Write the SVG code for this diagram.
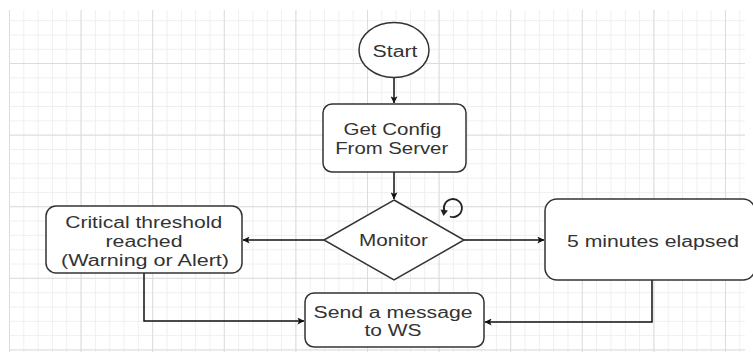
<svg xmlns="http://www.w3.org/2000/svg" width="753" height="354" viewBox="0 0 753 354">
<defs>
<pattern id="minor" x="9" y="5.8" width="14.32" height="14.32" patternUnits="userSpaceOnUse">
<path d="M0 0.5H14.32M0.5 0V14.32" fill="none" stroke="#efefef" stroke-width="1"/>
</pattern>
<pattern id="major" x="9" y="-8.6" width="71.6" height="71.6" patternUnits="userSpaceOnUse">
<path d="M0 0.5H71.6M0.5 0V71.6" fill="none" stroke="#dcdcdc" stroke-width="1"/>
</pattern>
<marker id="arr" viewBox="0 0 10 10" refX="9.5" refY="5" markerWidth="7" markerHeight="7" markerUnits="userSpaceOnUse" orient="auto">
<path d="M0 0L10 5L0 10L2.5 5Z" fill="#111"/>
</marker>
</defs>
<style>
.node{fill:#fff;stroke:#333;stroke-width:1.5}
.t{font-family:"Liberation Sans",Arial,sans-serif;font-size:16px;fill:#333;text-anchor:middle}
.c{fill:none;stroke:#111;stroke-width:1.5}
</style>
<rect width="753" height="354" fill="#fff"/>
<g id="grid">
<rect x="9" y="10" width="736" height="342" fill="url(#minor)"/>
<rect x="9" y="10" width="736" height="342" fill="url(#major)"/>
</g>
<g id="connectors">
<path class="c" d="M394 78V103" marker-end="url(#arr)"/>
<path class="c" d="M394 172V199" marker-end="url(#arr)"/>
<path class="c" d="M324 240H243" marker-end="url(#arr)"/>
<path class="c" d="M464 240H544" marker-end="url(#arr)"/>
<path class="c" d="M144 273V321H304" marker-end="url(#arr)"/>
<path class="c" d="M652 280V322H485" marker-end="url(#arr)"/>
</g>
<g id="start">
<ellipse class="node" cx="394" cy="50" rx="35" ry="27.5"/>
<text class="t" x="395" y="57" textLength="45" lengthAdjust="spacingAndGlyphs">Start</text>
</g>
<g id="getconfig">
<rect class="node" x="323" y="104" width="143" height="68" rx="9"/>
<text class="t" x="392.5" y="135" textLength="98" lengthAdjust="spacingAndGlyphs">Get Config</text>
<text class="t" x="391.7" y="154" textLength="113" lengthAdjust="spacingAndGlyphs">From Server</text>
</g>
<g id="monitor">
<polygon class="node" points="394,200 464,240 394,280 324,240"/>
<text class="t" x="393.5" y="246" textLength="69" lengthAdjust="spacingAndGlyphs">Monitor</text>
<path d="M449.9 216.5A9 9 0 1 0 444.4 211" fill="none" stroke="#222" stroke-width="1.8"/>
<path d="M440.5 209.5L448 210.5L443.5 216Z" fill="#222"/>
</g>
<g id="critical">
<rect class="node" x="46" y="206" width="196" height="67" rx="10"/>
<text class="t" x="143.7" y="228" textLength="157" lengthAdjust="spacingAndGlyphs">Critical threshold</text>
<text class="t" x="144" y="247" textLength="77" lengthAdjust="spacingAndGlyphs">reached</text>
<text class="t" x="145" y="266" textLength="168" lengthAdjust="spacingAndGlyphs">(Warning or Alert)</text>
</g>
<g id="fiveminutes">
<rect class="node" x="545" y="199" width="210" height="81" rx="12"/>
<text class="t" x="653" y="247" textLength="172" lengthAdjust="spacingAndGlyphs">5 minutes elapsed</text>
</g>
<g id="send">
<rect class="node" x="305" y="293" width="179" height="54" rx="9"/>
<text class="t" x="393" y="317.5" textLength="159" lengthAdjust="spacingAndGlyphs">Send a message</text>
<text class="t" x="393" y="336" textLength="57" lengthAdjust="spacingAndGlyphs">to WS</text>
</g>
</svg>
